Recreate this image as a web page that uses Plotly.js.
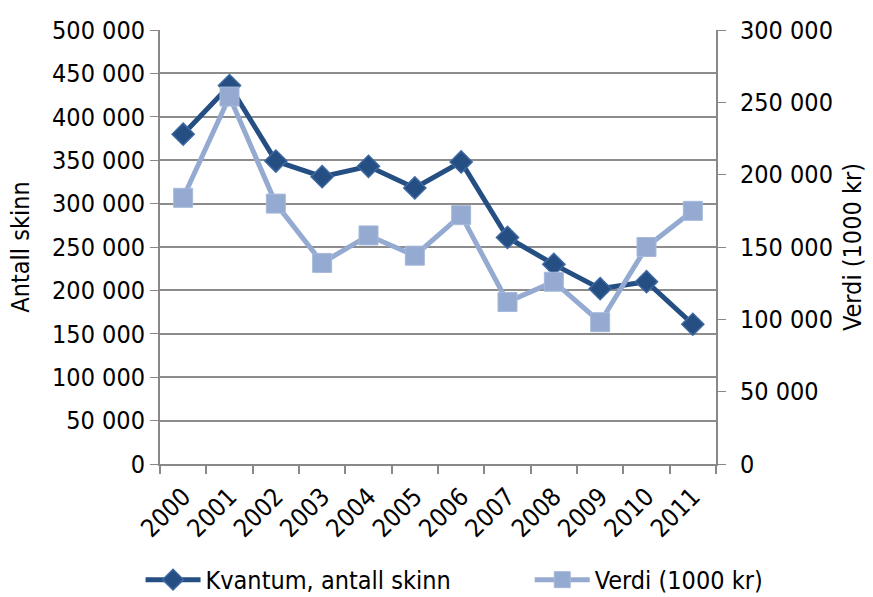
<!DOCTYPE html>
<html><head><meta charset="utf-8">
<script src="https://cdn.plot.ly/plotly-3.0.1.min.js"></script>
<style>html,body{margin:0;padding:0;background:#fff;}#chart{width:873px;height:597px;}</style>
</head><body><div id="chart"></div>
<script>
const years = ["2000","2001","2002","2003","2004","2005","2006","2007","2008","2009","2010","2011"];
const kvantum = [380000, 436000, 349000, 331000, 343000, 318000, 348000, 261000, 230000, 202000, 210000, 161000];
const verdi = [184000, 254000, 180000, 139000, 158000, 144000, 172000, 112000, 126000, 98000, 150000, 175000];
const leftTicks = [0,50000,100000,150000,200000,250000,300000,350000,400000,450000,500000];
const rightTicks = [0,50000,100000,150000,200000,250000,300000];
const fmt = v => v === 0 ? "0" : String(v).replace(/\B(?=(\d{3})+(?!\d))/g, " ");

const font = {family: "DejaVu Sans Condensed, DejaVu Sans, sans-serif", size: 25, color: "#000"};
const traces = [
  {x: years, y: kvantum, name: "Kvantum, antall skinn", type: "scatter", mode: "lines+markers", legend: "legend",
   line: {color: "#254E82", width: 5}, marker: {symbol: "diamond", size: 17, color: "#254E82", line: {color: "#3C67A0", width: 1.5}}},
  {x: years, y: verdi, name: "Verdi (1000 kr)", type: "scatter", mode: "lines+markers", yaxis: "y2", legend: "legend2",
   line: {color: "#94AAD0", width: 5}, marker: {symbol: "square", size: 19, color: "#94AAD0", line: {color: "#A6B9DB", width: 1}}}
];
const layout = {
  width: 873, height: 597,
  margin: {l: 160, r: 157, t: 30, b: 133, autoexpand: false},
  paper_bgcolor: "#fff", plot_bgcolor: "#fff",
  font: font, showlegend: true,
  xaxis: {type: "category", tickson: "boundaries", ticks: "outside", ticklen: 8, tickcolor: "#888", tickwidth: 1.5, automargin: false,
          ticklabelstandoff: 6,
          showgrid: false, showline: true, linecolor: "#888", linewidth: 2, tickangle: -45, tickfont: font, range: [-0.5, 11.5]},
  yaxis: {range: [0, 500000], tickvals: leftTicks, ticktext: leftTicks.map(fmt), showgrid: true, gridcolor: "#8C8C8C", gridwidth: 2,
          showline: true, linecolor: "#888", linewidth: 2, ticks: "outside", ticklen: 8, tickcolor: "#888", zeroline: false, automargin: false,
          title: {text: "Antall skinn", font: font, standoff: 15}, tickfont: font},
  yaxis2: {range: [0, 300000], overlaying: "y", side: "right", tickvals: rightTicks, ticktext: rightTicks.map(fmt), showgrid: false,
          showline: true, linecolor: "#888", linewidth: 2, ticks: "outside", ticklen: 8, tickcolor: "#888", zeroline: false, automargin: false,
          ticklabelstandoff: 9,
          title: {text: "Verdi (1000 kr)", font: font, standoff: 12}, tickfont: font},
  legend: {orientation: "h", x: -0.035, xanchor: "left", y: -0.267, yanchor: "middle", font: font, itemwidth: 55},
  legend2: {orientation: "h", x: 0.665, xanchor: "left", y: -0.267, yanchor: "middle", font: font, itemwidth: 55}
};
Plotly.newPlot("chart", traces, layout, {displayModeBar: false});
</script></body></html>
